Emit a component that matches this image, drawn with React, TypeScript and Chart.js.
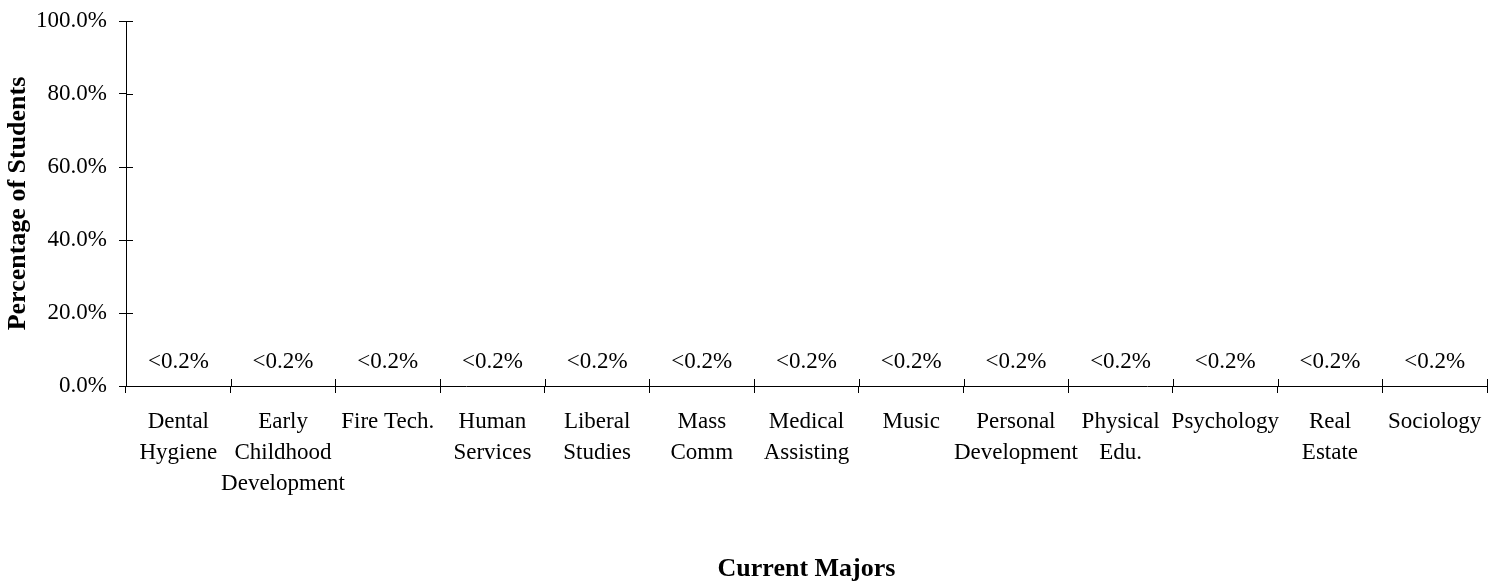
import React, { useEffect, useRef } from "react";
import { Chart, registerables } from "chart.js";

Chart.register(...registerables);

const categories: string[][] = [
  ["Dental", "Hygiene"],
  ["Early", "Childhood", "Development"],
  ["Fire Tech."],
  ["Human", "Services"],
  ["Liberal", "Studies"],
  ["Mass", "Comm"],
  ["Medical", "Assisting"],
  ["Music"],
  ["Personal", "Development"],
  ["Physical", "Edu."],
  ["Psychology"],
  ["Real", "Estate"],
  ["Sociology"],
];

const values: number[] = [0.1, 0.1, 0.1, 0.1, 0.1, 0.1, 0.1, 0.1, 0.1, 0.1, 0.1, 0.1, 0.1];
const valueLabels: string[] = [
  "<0.2%", "<0.2%", "<0.2%", "<0.2%", "<0.2%", "<0.2%", "<0.2%",
  "<0.2%", "<0.2%", "<0.2%", "<0.2%", "<0.2%", "<0.2%",
];
const yTicks: number[] = [0, 20, 40, 60, 80, 100];

const FONT = '"Liberation Serif", "Times New Roman", Times, serif';
const TICK = 7;

const crossTicks = {
  id: "crossTicks",
  afterDraw(chart: any) {
    const ctx = chart.ctx;
    const area = chart.chartArea;
    const ys = chart.scales.y;
    ctx.save();
    ctx.strokeStyle = "#000";
    ctx.lineWidth = 1;
    ctx.beginPath();
    ys.ticks.forEach((t: any) => {
      const y = Math.round(ys.getPixelForValue(t.value)) + 0.5;
      ctx.moveTo(area.left, y);
      ctx.lineTo(area.left + TICK, y);
    });
    const n = categories.length;
    for (let i = 0; i <= n; i++) {
      const x = Math.round(area.left + ((area.right - area.left) * i) / n) + 0.5;
      ctx.moveTo(x, area.bottom);
      ctx.lineTo(x, area.bottom - TICK);
    }
    ctx.stroke();
    const meta = chart.getDatasetMeta(0);
    ctx.fillStyle = "#000";
    ctx.font = `23px ${FONT}`;
    ctx.textAlign = "center";
    ctx.textBaseline = "middle";
    meta.data.forEach((bar: any, i: number) => {
      ctx.fillText(valueLabels[i], bar.x, bar.y - 24);
    });
    ctx.restore();
  },
};

export default function App() {
  const ref = useRef<HTMLCanvasElement | null>(null);
  useEffect(() => {
    if (!ref.current) return;
    const chart = new Chart(ref.current, {
      type: "bar",
      data: {
        labels: categories,
        datasets: [
          {
            data: values,
            backgroundColor: "rgba(0,0,0,0)",
            borderWidth: 0,
            categoryPercentage: 0.6,
            barPercentage: 1,
          },
        ],
      },
      options: {
        animation: false,
        responsive: true,
        maintainAspectRatio: false,
        layout: { padding: { top: 21, right: 12, left: 0, bottom: 0 } },
        plugins: {
          legend: { display: false },
          tooltip: { enabled: false },
        },
        scales: {
          x: {
            offset: true,
            grid: {
              display: true,
              drawOnChartArea: false,
              offset: true,
              tickLength: TICK,
              color: "#000",
            },
            border: { display: true, color: "#000", width: 1 },
            ticks: {
              color: "#000",
              font: { family: FONT, size: 23, lineHeight: 1.33 },
              padding: 14,
              maxRotation: 0,
              minRotation: 0,
              autoSkip: false,
            },
            title: {
              display: true,
              text: "Current Majors",
              color: "#000",
              font: { family: FONT, size: 26, weight: "bold", lineHeight: 1.2 },
              padding: { top: 0, bottom: 1 },
            },
            afterFit(scale: any) {
              scale.height = 200;
              scale.paddingLeft = 0;
              scale.paddingRight = 0;
            },
          },
          y: {
            min: 0,
            max: 100,
            afterBuildTicks(scale: any) {
              scale.ticks = yTicks.map((v) => ({ value: v }));
            },
            grid: {
              display: true,
              drawOnChartArea: false,
              tickLength: TICK,
              color: "#000",
            },
            border: { display: true, color: "#000", width: 1 },
            ticks: {
              color: "#000",
              font: { family: FONT, size: 23 },
              padding: 12,
              callback: (v: any) => Number(v).toFixed(1) + "%",
            },
            title: {
              display: true,
              text: "Percentage of Students",
              color: "#000",
              font: { family: FONT, size: 26, weight: "bold", lineHeight: 1.2 },
              padding: { top: 3, bottom: 0 },
            },
            afterFit(scale: any) {
              scale.width = 126;
              scale.paddingTop = 0;
              scale.paddingBottom = 0;
            },
          },
        },
      },
      plugins: [crossTicks],
    });
    return () => chart.destroy();
  }, []);
  return (
    <div style={{ position: "absolute", left: 0, top: 0, width: 1499, height: 586, background: "#fff" }}>
      <canvas ref={ref} />
    </div>
  );
}
